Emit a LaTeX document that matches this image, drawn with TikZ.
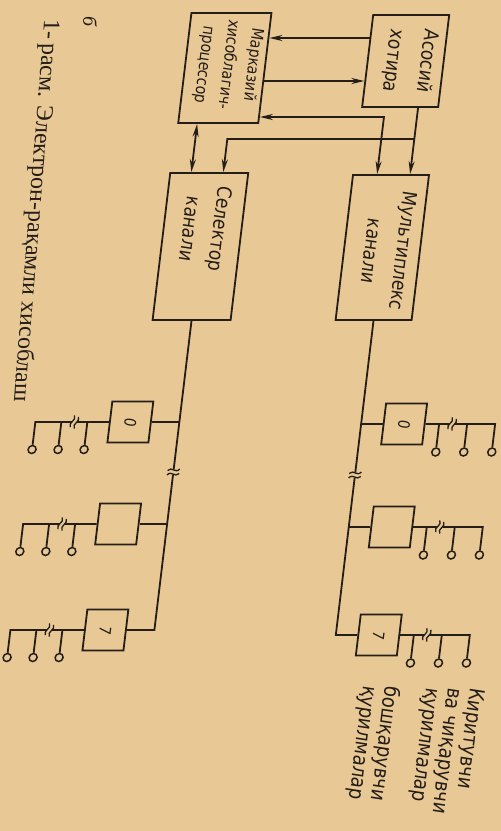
\documentclass[tikz,border=0pt]{standalone}
\usepackage{fontspec}
\usepackage{graphicx}
\setmainfont{Liberation Serif}
\newfontfamily\drawfont[FakeStretch=0.85,FakeSlant=0.15]{DejaVu Sans}
\usetikzlibrary{arrows.meta}
\definecolor{paper}{RGB}{232,201,150}
\definecolor{ink}{RGB}{36,29,24}
\tikzset{
  bigbox/.style={draw=ink, line width=1.8pt, inner sep=0pt},
  cbox/.style={draw=ink, line width=1.8pt, minimum width=41pt, minimum height=41pt,
    inner sep=0pt, font=\drawfont\fontsize{16}{16}\selectfont, text=ink},
  boxtext/.style={rotate=-90, align=center, text=ink, inner sep=0pt},
  wire/.style={draw=ink, line width=1.8pt},
  arr/.style={-{Stealth[length=13pt,width=6pt]}},
  darr/.style={{Stealth[length=13pt,width=6pt]}-{Stealth[length=13pt,width=6pt]}},
  term/.style={circle, draw=ink, fill=paper, line width=1.5pt, minimum size=8pt, inner sep=0pt},
  vbrk/.pic={
    \fill[paper] (-4,-2.5) rectangle (4,2.5);
    \draw[ink, line width=1.3pt] (-6,-1.5) .. controls (-2,-6) and (2,2) .. (6,-3);
    \draw[ink, line width=1.3pt] (-6,3) .. controls (-2,-2) and (2,6) .. (6,1.5);
  },
}
\begin{document}
\begin{tikzpicture}[x=1pt,y=-1pt]
\useasboundingbox (0,0) rectangle (501,831);
\clip (0,0) rectangle (501,831);
\fill[paper] (0,0) rectangle (501,831);
\begin{scope}[xslant=0.12, transform shape]
  % main boxes
  \node[bigbox, minimum width=76pt, minimum height=92pt] (mem) at (413,61) {};
  \node[bigbox, minimum width=80pt, minimum height=110pt] (cpu) at (233,68) {};
  \node[bigbox, minimum width=78pt, minimum height=147pt] (sel) at (230,246.5) {};
  \node[bigbox, minimum width=76pt, minimum height=145pt] (mux) at (412,247.5) {};
  \node[boxtext, font=\drawfont\fontsize{20}{34}\selectfont] (memt) at (417,60) {Асосий\\хотира};
  \node[boxtext, font=\drawfont\fontsize{16.5}{24.5}\selectfont] (cput) at (236,64) {Марказий\\хисоблагич-\\процессор};
  \node[boxtext, font=\drawfont\fontsize{20}{30}\selectfont] (selt) at (233,228) {Селектор\\канали};
  \node[boxtext, font=\drawfont\fontsize{20}{32}\selectfont] (muxt) at (418,250) {Мультиплекс\\канали};
  % connectors between main boxes
  \draw[wire, arr] (mem.west |- 0,38) -- (cpu.east |- 0,38);
  \draw[wire, arr] (cpu.east |- 0,81) -- (mem.west |- 0,81);
  \draw[wire, darr] (cpu.east |- 0,117) -| (mux.north -| 398,0);
  \draw[wire, arr] (mem.south -| 431,0) -- (mux.north -| 431,0);
  \coordinate (br) at (431,139);
  \draw[wire, arr] (br) -| (sel.north -| 244,0);
  \draw[wire, darr] (cpu.south -| 212,0) -- (sel.north -| 212,0);
  % selector channel devices
  \foreach \i/\yy/\lab in {0/422/0,1/524/{},2/630/7} {
    \node[cbox] (s\i) at (181,\yy) {\rotatebox{-90}{\lab}};
    \node[term] (sa\i) at (138,\yy+27.5) {};
    \node[term] (sb\i) at (112,\yy+27.5) {};
    \node[term] (sc\i) at (86,\yy+27.5) {};
    \draw[wire] (s\i.west) -| (sc\i.north);
    \draw[wire] (sa\i.north) -- (sa\i.north |- s\i.west);
    \draw[wire] (sb\i.north) -- (sb\i.north |- s\i.west);
    \pic[rotate=70] at (125,\yy) {vbrk};
  }
  \draw[wire] (sel.south) |- (s2.east);
  \draw[wire] (s0.east) -- (s0.east -| sel.south);
  \draw[wire] (s1.east) -- (s1.east -| sel.south);
  \pic at (sel.south |- 0,472) {vbrk};
  % multiplex channel devices
  \foreach \i/\yy/\lab in {0/424/0,1/527/{},2/635/7} {
    \node[cbox] (m\i) at (455,\yy) {\rotatebox{-90}{\lab}};
    \node[term] (ma\i) at (490,\yy+28) {};
    \node[term] (mb\i) at (518,\yy+28) {};
    \node[term] (mc\i) at (546,\yy+28) {};
    \draw[wire] (m\i.east) -| (mc\i.north);
    \draw[wire] (ma\i.north) -- (ma\i.north |- m\i.east);
    \draw[wire] (mb\i.north) -- (mb\i.north |- m\i.east);
    \pic[rotate=70] at (503,\yy) {vbrk};
  }
  \draw[wire] (mux.south) |- (m2.west);
  \draw[wire] (m0.west) -- (m0.west -| mux.south);
  \draw[wire] (m1.west) -- (m1.west -| mux.south);
  \pic at (mux.south |- 0,475) {vbrk};
  % labels
  \node[boxtext, align=left, anchor=north west, font=\drawfont\fontsize{21}{22}\selectfont] (lbl) at (568,687)
    {Киритувчи\\ва чиқарувчи\\қурилмалар};
  \node[boxtext, align=left, anchor=north west, font=\drawfont\fontsize{21}{22}\selectfont] (lbl2) at (484,685)
    {бошқарувчи\\қурилмалар};
  \node[rotate=-90, text=ink, inner sep=0pt, font=\itshape\fontsize{20}{20}\selectfont] (fig) at (93,22) {б};
\end{scope}
\begin{scope}[xslant=0.08, transform shape]
  \node[rotate=-90, anchor=west, text=ink, inner sep=0pt, font=\fontsize{24}{24}\selectfont] (cap) at (52,19)
    {1-\,расм. Электрон-рақамли хисоблаш};
\end{scope}
\end{tikzpicture}
\end{document}
